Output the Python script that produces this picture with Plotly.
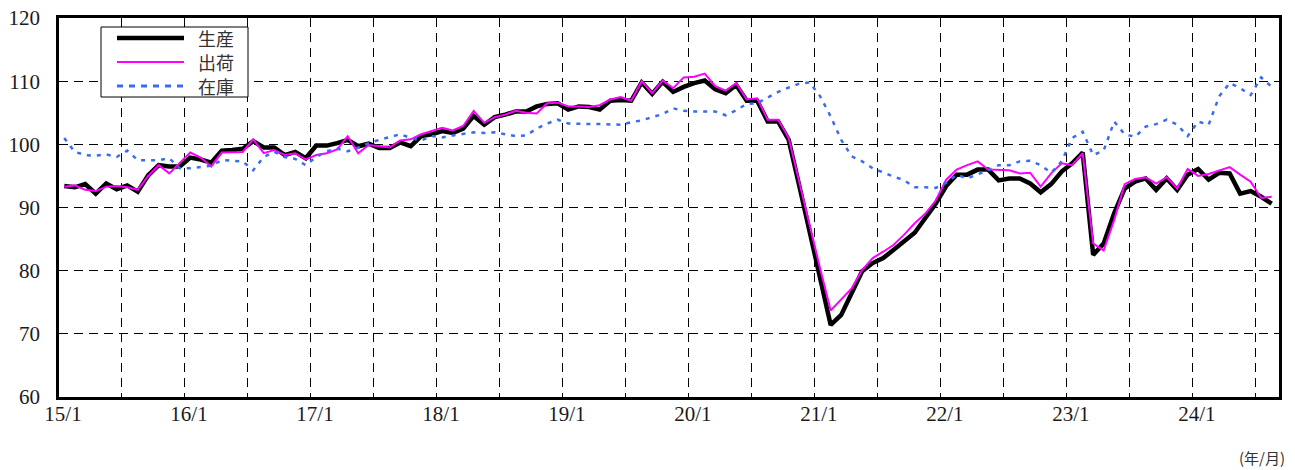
import plotly.graph_objects as go

# Monthly index, 2015/1 .. 2024/8
start_year = 2015
production = [
    93.4, 93.2, 93.7, 92.2, 93.8, 92.9, 93.5, 92.5, 95.1, 96.7, 96.5, 96.5,
    97.9, 97.6, 97.1, 99.0, 99.1, 99.3, 100.5, 99.5, 99.5, 98.3, 98.8, 97.8,
    99.8, 99.8, 100.2, 100.7, 99.7, 100.1, 99.4, 99.4, 100.3, 99.7, 101.3, 101.6,
    102.1, 101.8, 102.5, 104.5, 103.1, 104.3, 104.7, 105.2, 105.2, 106.0, 106.4, 106.5,
    105.5, 106.0, 105.9, 105.5, 106.9, 107.0, 106.9, 109.8, 108.0, 109.9, 108.3, 109.1,
    109.7, 110.1, 108.7, 108.1, 109.4, 106.9, 106.9, 103.6, 103.6, 100.7, 93.5, 86.2,
    78.8, 71.4, 73.0, 76.4, 79.9, 81.2, 82.0, 83.3, 84.6, 86.0, 88.3, 90.6,
    93.4, 95.2, 95.2, 96.0, 96.0, 94.3, 94.6, 94.6, 93.8, 92.4, 93.7, 95.7,
    97.0, 98.7, 82.5, 84.3, 89.1, 93.0, 94.1, 94.6, 92.8, 94.6, 92.8, 95.2,
    96.1, 94.4, 95.5, 95.4, 92.2, 92.6, 91.7, 90.6,
]
shipments = [
    93.3, 93.5, 92.8, 92.6, 93.3, 93.4, 93.2, 92.8, 95.0, 96.7, 95.4, 97.1,
    98.7, 97.9, 96.5, 98.7, 98.8, 98.8, 100.8, 98.6, 99.1, 98.3, 98.6, 97.6,
    98.3, 98.6, 99.2, 101.3, 98.6, 99.9, 99.7, 99.5, 100.6, 100.8, 101.6, 102.1,
    102.6, 102.2, 102.9, 105.3, 103.4, 104.3, 104.7, 105.3, 105.0, 104.9, 106.5, 106.6,
    106.0, 106.0, 105.9, 106.2, 107.1, 107.5, 106.9, 110.0, 108.1, 110.1, 108.9, 110.6,
    110.7, 111.2, 109.2, 108.5, 109.7, 107.1, 107.3, 103.9, 103.9, 101.0, 94.0, 87.0,
    80.3, 73.7, 75.5, 77.2, 80.1, 82.0, 83.0, 84.1, 85.7, 87.5, 89.0, 91.1,
    94.4, 96.0, 96.7, 97.3, 96.0, 96.0, 95.9, 95.4, 95.5, 93.3, 95.4, 97.0,
    96.7, 98.6, 84.3, 83.2, 88.0, 93.7, 94.5, 94.8, 93.8, 94.8, 93.0, 96.1,
    95.0, 95.3, 95.8, 96.4, 95.2, 94.1, 91.5, 91.7,
]
inventory = [
    101.0, 98.8, 98.3, 98.2, 98.4, 98.0, 99.0, 97.5, 97.5, 97.5, 97.8, 96.2,
    96.2, 96.4, 96.6, 97.5, 97.4, 97.3, 95.9, 98.0, 98.8, 98.0, 97.7, 96.7,
    98.0, 98.9, 99.3, 98.9, 99.5, 100.2, 100.7, 101.2, 101.6, 101.0, 100.6, 101.3,
    101.1, 101.4, 101.7, 101.9, 101.8, 101.9, 101.6, 101.3, 101.4, 102.5, 103.3, 103.9,
    103.3, 103.2, 103.2, 103.2, 103.2, 103.1, 103.5, 103.8, 104.3, 104.8, 105.7, 105.3,
    105.2, 105.2, 105.2, 104.6, 105.4, 106.4, 106.5, 107.4, 108.3, 109.0, 109.6, 109.8,
    107.6, 104.4, 100.7, 98.1, 97.3, 96.2, 95.5, 94.9, 94.3, 93.2, 93.2, 93.1,
    93.9, 95.2, 94.6, 95.2, 95.9, 96.7, 96.7, 97.3, 97.4, 96.7, 95.5, 97.3,
    101.0, 102.0, 98.3, 99.0, 103.6, 101.6, 101.2, 102.8, 103.2, 103.9, 103.1, 101.3,
    103.6, 103.1, 107.6, 109.7, 108.9, 107.8, 110.6, 109.1,
]
series_names = ["生産", "出荷", "在庫"]
year_labels = [f"{y % 100}/1" for y in range(2015, 2025)]
y_ticks = [60, 70, 80, 90, 100, 110, 120]

n = len(production)
x = [i + 0.5 for i in range(n)]  # plotted at mid-month

colors = ["black", "#ff00ff", "#3a6cf0"]
widths = [4.5, 2, 2.5]
dashes = ["solid", "solid", "4px,6px"]

fig = go.Figure()
for name, ys, c, w, d in zip(series_names, [production, shipments, inventory], colors, widths, dashes):
    fig.add_trace(go.Scatter(x=x, y=ys, name=name, mode="lines", showlegend=False,
                             line=dict(color=c, width=w, dash=d)))

tickvals = list(range(0, 116, 6))
ticktext = [year_labels[v // 12] if v % 12 == 0 else "" for v in tickvals]

# plot-area edges in page pixels (page body margin removed below)
L, R, T, B = 59, 1279, 18, 397
def px(v):
    return (v - L) / (R - L)
def py(v):
    return (B - v) / (B - T)

shapes = [dict(type="rect", xref="paper", yref="paper", x0=px(101), x1=px(248),
               y0=py(97), y1=py(27), line=dict(color="black", width=1),
               fillcolor="white", layer="above")]
annotations = []
legend_y = [38, 62, 86]
legend_w = [4.5, 2, 3]
legend_d = ["solid", "solid", "6px,6px"]
for name, c, w, d, ly in zip(series_names, colors, legend_w, legend_d, legend_y):
    shapes.append(dict(type="line", xref="paper", yref="paper", x0=px(117), x1=px(184),
                       y0=py(ly), y1=py(ly), layer="above",
                       line=dict(color=c, width=w, dash=d)))
    annotations.append(dict(text=name, xref="paper", yref="paper", x=px(196), y=py(ly),
                            xanchor="left", yanchor="middle", showarrow=False,
                            font=dict(family="Noto Sans CJK JP", size=18, color="#333")))
annotations.append(dict(text="(年/月)", xref="paper", yref="paper", x=px(1262), y=py(457),
                        xanchor="center", yanchor="middle", showarrow=False, borderpad=0,
                        font=dict(family="Noto Sans CJK JP", size=15, color="#333")))

serif = "Liberation Serif, Times New Roman, DejaVu Serif, serif"
fig.update_layout(
    width=1295, height=470,
    margin=dict(l=L, r=1295 - R, t=T, b=470 - B, autoexpand=False),
    paper_bgcolor="white", plot_bgcolor="white",
    font=dict(family=serif, size=21, color="#1a1a1a"),
    showlegend=False,
    xaxis=dict(range=[0, 116.2], tickvals=tickvals, ticktext=ticktext,
               showgrid=True, gridcolor="black", gridwidth=1, griddash="9px,6px",
               showline=True, linecolor="black", linewidth=2.5, mirror=True,
               ticks="", ticklabelstandoff=-4, ticklabelshift=4, automargin=False,
               ticklabeloverflow="allow",
               zeroline=False, tickfont=dict(family=serif, size=21, color="#1a1a1a")),
    yaxis=dict(range=[60, 120], tickvals=y_ticks,
               showgrid=True, gridcolor="black", gridwidth=1, griddash="9px,6px",
               showline=True, linecolor="black", linewidth=2.5, mirror=True,
               ticks="", ticklabelstandoff=12, automargin=False,
               ticklabeloverflow="allow",
               zeroline=False, tickfont=dict(family=serif, size=21, color="#1a1a1a")),
    shapes=shapes,
    annotations=annotations,
)

fig.write_html("out.html", config={"displayModeBar": False},
               post_script="document.body.style.margin='0';document.body.style.padding='0';")
